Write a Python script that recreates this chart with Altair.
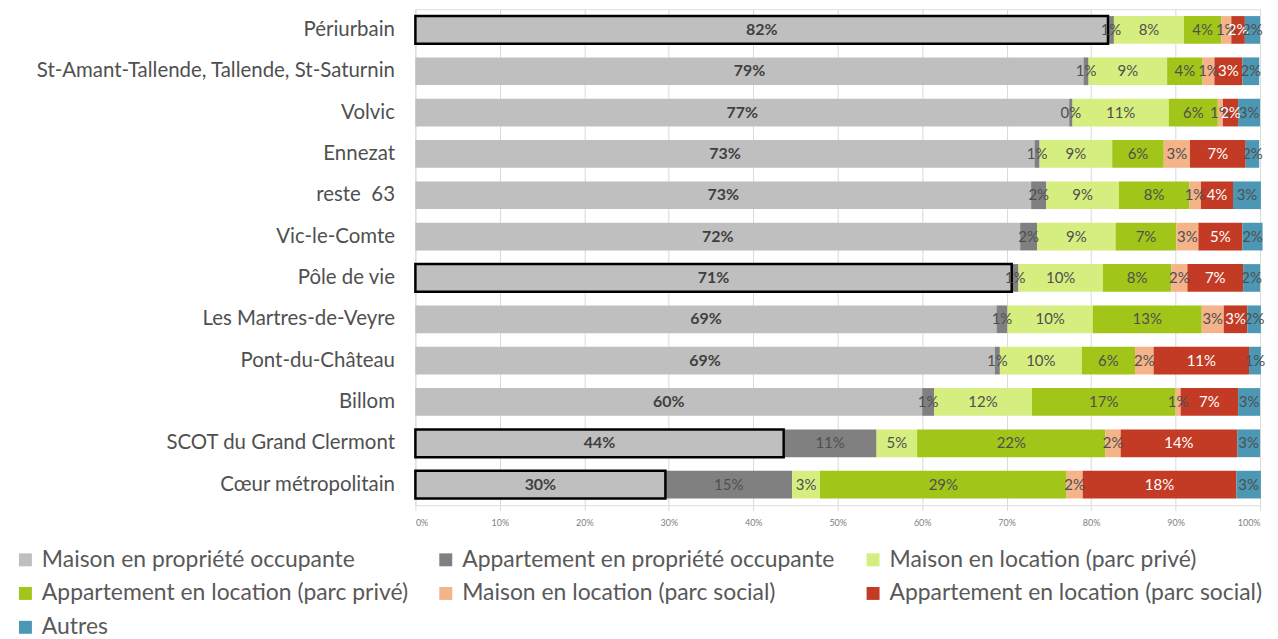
import altair as alt
import pandas as pd

categories = ["Périurbain", "St-Amant-Tallende, Tallende, St-Saturnin", "Volvic", "Ennezat",
              "reste\u00a0\u00a063", "Vic-le-Comte", "Pôle de vie", "Les Martres-de-Veyre",
              "Pont-du-Château", "Billom", "SCOT du Grand Clermont", "Cœur métropolitain"]
outlined = ["Périurbain", "Pôle de vie", "SCOT du Grand Clermont", "Cœur métropolitain"]
series = ["Maison en propriété occupante", "Appartement en propriété occupante",
          "Maison en location (parc privé)", "Appartement en location (parc privé)",
          "Maison en location (parc social)", "Appartement en location (parc social)", "Autres"]
colors = ["#bfbfbf", "#808080", "#d6ed7f", "#a2c519", "#f5b38a", "#c33b24", "#4c98b4"]

maison_prop = [82.0, 79.1, 77.4, 73.3, 72.9, 71.6, 70.6, 68.8, 68.6, 60.0, 43.6, 29.6]
appart_prop = [0.7, 0.6, 0.4, 0.6, 1.8, 2.0, 0.8, 1.3, 0.6, 1.4, 11.0, 15.0]
maison_loc_prive = [8.3, 9.3, 11.4, 8.6, 8.6, 9.3, 10.0, 10.1, 9.7, 11.6, 4.8, 3.3]
appart_loc_prive = [4.4, 4.2, 5.8, 6.1, 8.3, 7.2, 8.1, 12.9, 6.3, 17.0, 22.3, 29.2]
maison_loc_social = [1.2, 1.4, 0.6, 3.1, 1.4, 2.6, 1.9, 2.6, 2.2, 0.6, 1.8, 1.9]
appart_loc_social = [1.6, 3.3, 1.8, 6.6, 3.8, 5.2, 6.6, 2.8, 11.3, 6.8, 13.8, 18.2]
autres = [1.8, 2.0, 2.6, 1.6, 3.3, 2.4, 2.0, 1.6, 1.4, 2.6, 2.7, 2.9]

values = [maison_prop, appart_prop, maison_loc_prive, appart_loc_prive,
          maison_loc_social, appart_loc_social, autres]

rows = []
for si, (s, vals) in enumerate(zip(series, values)):
    for ci, c in enumerate(categories):
        rows.append({"cat": c, "series": s, "order": si, "value": vals[ci],
                     "outline": c in outlined})
df = pd.DataFrame(rows)

FONT = "Lato"

base = alt.Chart(df).transform_stack(
    stack="value", groupby=["cat"], sort=[alt.SortField("order")], as_=["x0", "x1"]
).transform_calculate(
    mid="(datum.x0 + datum.x1) / 2",
    label="format(datum.value, '.0f') + '%'"
)

y_enc = alt.Y("cat:N", sort=categories, title=None,
              scale=alt.Scale(paddingInner=0.33, paddingOuter=0.165),
              axis=alt.Axis(labelFontSize=20.5, labelColor="#505050", labelFont=FONT,
                            ticks=False, domain=False, labelPadding=21, labelLimit=420))

x_scale = alt.Scale(domain=[0, 100], nice=False)

bars = base.mark_bar().encode(
    y=y_enc,
    x=alt.X("x0:Q", scale=x_scale, title=None,
            axis=alt.Axis(values=list(range(0, 101, 10)), labelExpr="datum.value + '%'",
                          labelFontSize=9, labelColor="#808080", labelFont=FONT,
                          grid=True, gridColor="#d9d9d9", domain=False,
                          tickColor="#d9d9d9", tickSize=5, labelPadding=8)),
    x2="x1:Q",
    color=alt.Color("series:N", sort=series,
                    scale=alt.Scale(domain=series, range=colors),
                    legend=alt.Legend(title=None, orient="none", legendX=-403, legendY=541,
                                      direction="horizontal", columns=3, columnPadding=26,
                                      rowPadding=10, symbolType="square", symbolSize=169,
                                      symbolStrokeWidth=0, labelFontSize=23,
                                      labelColor="#595959", labelFont=FONT,
                                      labelLimit=600, symbolOffset=0, labelOffset=5)),
)

outline = base.transform_filter(
    "datum.outline && datum.order == 0"
).mark_bar(fillOpacity=0, stroke="black", strokeWidth=2.5).encode(
    y=alt.Y("cat:N", sort=categories),
    x=alt.X("x0:Q", scale=x_scale),
    x2="x1:Q",
)

text_main = base.transform_filter("datum.order == 0").mark_text(
    fontSize=16, fontWeight="bold", color="#404040", font=FONT
).encode(
    y=alt.Y("cat:N", sort=categories),
    x=alt.X("mid:Q", scale=x_scale),
    text="label:N",
)

text_rest = base.transform_filter("datum.order > 0").mark_text(
    fontSize=15, font=FONT
).encode(
    y=alt.Y("cat:N", sort=categories),
    x=alt.X("mid:Q", scale=x_scale),
    text="label:N",
    color=alt.condition("datum.order == 5", alt.value("#ffffff"), alt.value("#4f4f4f")),
)

chart = alt.layer(bars, outline, text_main, text_rest).properties(
    width=848, height=498,
    autosize=alt.AutoSizeParams(type="none"),
    padding={"left": 409, "top": 0, "right": 10, "bottom": 140},
).configure_view(stroke=None).configure(font=FONT)

chart.save("out.html", embed_options={"renderer": "svg", "actions": False})
